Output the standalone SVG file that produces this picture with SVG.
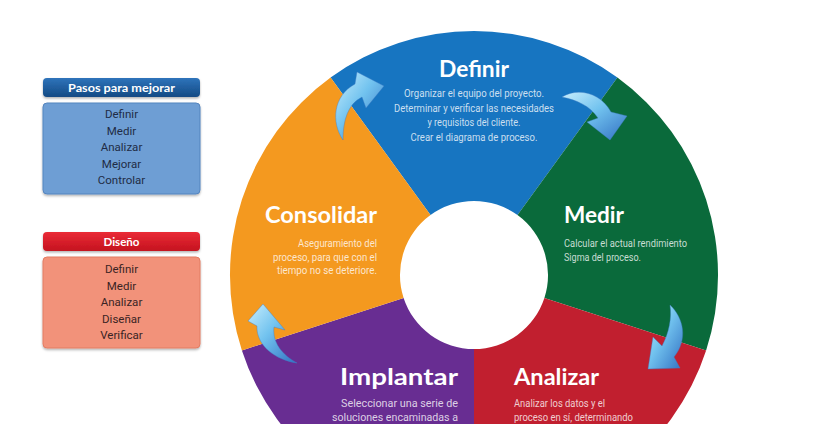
<svg xmlns="http://www.w3.org/2000/svg" width="822" height="424" viewBox="0 0 822 424">
  <style>
    .title { font-family: Lato, "Open Sans", "Liberation Sans", sans-serif; font-weight: 700; font-size: 22px; fill: #ffffff; }
    .desc { font-family: Roboto, "Liberation Sans", sans-serif; font-size: 10px; fill: #ffffff; fill-opacity: 0.78; }
    .hdr { font-family: Lato, "Liberation Sans", sans-serif; font-weight: 700; font-size: 12px; fill: #ffffff; text-anchor: middle; }
    .item { font-family: Roboto, "Liberation Sans", sans-serif; font-size: 11.5px; text-anchor: middle; }
    .item-b { fill: #1f2c45; }
    .item-r { fill: #3a2424; }
    .arrow { fill: url(#arrowGrad); stroke: #3f7cc4; stroke-width: 0.4; }
  </style>
  <defs>
    <linearGradient id="blueHdr" x1="0" y1="0" x2="0" y2="1">
      <stop offset="0" stop-color="#2f74bb"/>
      <stop offset="1" stop-color="#134a84"/>
    </linearGradient>
    <linearGradient id="redHdr" x1="0" y1="0" x2="0" y2="1">
      <stop offset="0" stop-color="#ea2b36"/>
      <stop offset="1" stop-color="#c4121f"/>
    </linearGradient>
    <linearGradient id="arrowGrad" x1="0" y1="0" x2="1" y2="1">
      <stop offset="0" stop-color="#c9eefd"/>
      <stop offset="0.45" stop-color="#72c3ef"/>
      <stop offset="1" stop-color="#3170c2"/>
    </linearGradient>
    <filter id="shadow" x="-10%" y="-10%" width="120%" height="130%">
      <feDropShadow dx="0" dy="1.5" stdDeviation="1.2" flood-color="#000000" flood-opacity="0.3"/>
    </filter>
  </defs>

  <rect x="0" y="0" width="822" height="424" fill="#ffffff"/>

  <!-- Left legend: Pasos para mejorar -->
  <g id="legend-mejorar">
    <rect x="43" y="78" width="157" height="19" rx="4" fill="url(#blueHdr)" filter="url(#shadow)"/>
    <text class="hdr" x="121.5" y="92" textLength="107" lengthAdjust="spacingAndGlyphs">Pasos para mejorar</text>
    <rect x="43" y="103" width="157" height="91" rx="4" fill="#6e9ed4" stroke="#5585bf" stroke-width="1" filter="url(#shadow)"/>
    <text class="item item-b" x="121.5" y="118">Definir</text>
    <text class="item item-b" x="121.5" y="134.6">Medir</text>
    <text class="item item-b" x="121.5" y="151.2">Analizar</text>
    <text class="item item-b" x="121.5" y="167.8">Mejorar</text>
    <text class="item item-b" x="121.5" y="184.4">Controlar</text>
  </g>

  <!-- Left legend: Diseño -->
  <g id="legend-diseno">
    <rect x="43" y="232" width="157" height="19" rx="4" fill="url(#redHdr)" filter="url(#shadow)"/>
    <text class="hdr" x="121.5" y="246" textLength="36" lengthAdjust="spacingAndGlyphs">Diseño</text>
    <rect x="43" y="257" width="157" height="91" rx="4" fill="#f2927a" stroke="#e27d63" stroke-width="1" filter="url(#shadow)"/>
    <text class="item item-r" x="121.5" y="273">Definir</text>
    <text class="item item-r" x="121.5" y="289.6">Medir</text>
    <text class="item item-r" x="121.5" y="306.2">Analizar</text>
    <text class="item item-r" x="121.5" y="322.8">Diseñar</text>
    <text class="item item-r" x="121.5" y="339.4">Verificar</text>
  </g>

  <!-- Ring segments -->
  <g id="seg-definir">
    <path d="M 330.6 77.6 A 244 244 0 0 1 617.4 77.6 L 517.5 215.1 A 74 74 0 0 0 430.5 215.1 Z" fill="#1775c1"/>
    <text class="title" x="474" y="77" text-anchor="middle" textLength="70" lengthAdjust="spacingAndGlyphs">Definir</text>
    <text class="desc" x="474" y="97" text-anchor="middle" textLength="140" lengthAdjust="spacingAndGlyphs">Organizar el equipo del proyecto.</text>
    <text class="desc" x="474" y="111.5" text-anchor="middle" textLength="160" lengthAdjust="spacingAndGlyphs">Determinar y verificar las necesidades</text>
    <text class="desc" x="474" y="126" text-anchor="middle" textLength="93" lengthAdjust="spacingAndGlyphs">y requisitos del cliente.</text>
    <text class="desc" x="474" y="140.5" text-anchor="middle" textLength="127" lengthAdjust="spacingAndGlyphs">Crear el diagrama de proceso.</text>
  </g>

  <g id="seg-medir">
    <path d="M 617.4 77.6 A 244 244 0 0 1 706.1 350.4 L 544.4 297.9 A 74 74 0 0 0 517.5 215.1 Z" fill="#0a6a3b"/>
    <text class="title" x="564" y="223" textLength="60" lengthAdjust="spacingAndGlyphs">Medir</text>
    <text class="desc" x="564" y="246.5" textLength="123" lengthAdjust="spacingAndGlyphs">Calcular el actual rendimiento</text>
    <text class="desc" x="564" y="260.5" textLength="77" lengthAdjust="spacingAndGlyphs">Sigma del proceso.</text>
  </g>

  <g id="seg-analizar">
    <path d="M 706.1 350.4 A 244 244 0 0 1 474 519 L 474 349 A 74 74 0 0 0 544.4 297.9 Z" fill="#c11f2f"/>
    <text class="title" x="514" y="385" textLength="85" lengthAdjust="spacingAndGlyphs">Analizar</text>
    <text class="desc" x="514" y="407" textLength="91" lengthAdjust="spacingAndGlyphs">Analizar los datos y el</text>
    <text class="desc" x="514" y="421" textLength="119" lengthAdjust="spacingAndGlyphs">proceso en sí, determinando</text>
  </g>

  <g id="seg-implantar">
    <path d="M 474 519 A 244 244 0 0 1 241.9 350.4 L 403.6 297.9 A 74 74 0 0 0 474 349 Z" fill="#682d92"/>
    <text class="title" x="458" y="385" text-anchor="end" textLength="118" lengthAdjust="spacingAndGlyphs">Implantar</text>
    <text class="desc" x="458" y="407" text-anchor="end" textLength="117" lengthAdjust="spacingAndGlyphs">Seleccionar una serie de</text>
    <text class="desc" x="458" y="421" text-anchor="end" textLength="126" lengthAdjust="spacingAndGlyphs">soluciones encaminadas a</text>
  </g>

  <g id="seg-consolidar">
    <path d="M 241.9 350.4 A 244 244 0 0 1 330.6 77.6 L 430.5 215.1 A 74 74 0 0 0 403.6 297.9 Z" fill="#f4991f"/>
    <text class="title" x="377" y="223" text-anchor="end" textLength="112" lengthAdjust="spacingAndGlyphs">Consolidar</text>
    <text class="desc" x="377" y="246.5" text-anchor="end" textLength="79" lengthAdjust="spacingAndGlyphs">Aseguramiento del</text>
    <text class="desc" x="377" y="260.5" text-anchor="end" textLength="104" lengthAdjust="spacingAndGlyphs">proceso, para que con el</text>
    <text class="desc" x="377" y="274" text-anchor="end" textLength="100" lengthAdjust="spacingAndGlyphs">tiempo no se deteriore.</text>
  </g>

  <!-- Curved arrows (connectors) -->
  <g id="connectors">
    <path class="arrow" d="M 343 140 C 331 122 333 96 355 84 L 357 72 L 384 86 L 366 108 L 362 97 C 348 104 343 120 343 140 Z"/>
    <path class="arrow" d="M 562 97 C 578 87 601 93 611 112 L 627 116 L 610 140 L 587 122 L 598 118 C 590 106 577 100 562 97 Z"/>
    <path class="arrow" d="M 670 305 C 684 318 688 340 674 357 L 680 368 L 648 369 L 653 337 L 662 346 C 669 333 672 318 670 305 Z"/>
    <path class="arrow" d="M 297 363 C 275 360 256 345 257 326 L 248 321 L 263 304 L 285 330 L 274 327 C 272 342 282 355 297 363 Z"/>
  </g>
</svg>
